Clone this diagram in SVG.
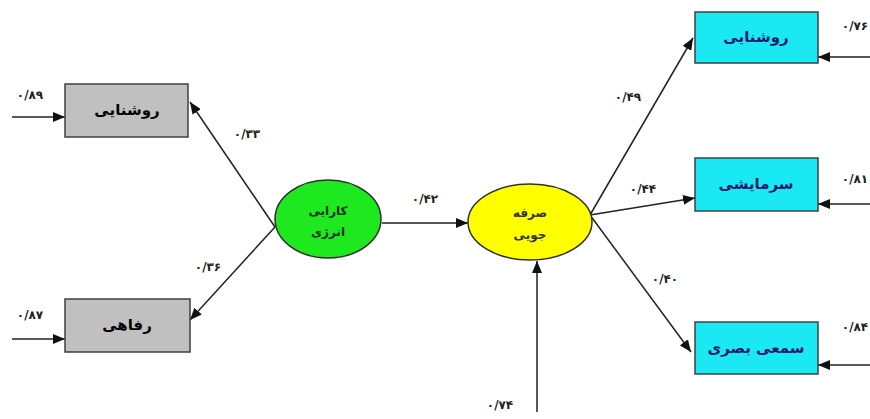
<svg xmlns="http://www.w3.org/2000/svg" width="870" height="419" viewBox="0 0 870 419">
<style>
.bg{fill:#ffffff}
.grey{fill:#c0c0c0;stroke:#404040;stroke-width:1.5}
.cyan{fill:#1ae8f2;stroke:#404040;stroke-width:1.5}
.lbl{font-family:"DejaVu Sans",sans-serif;font-size:15px;font-weight:bold;text-anchor:middle}
.num{font-family:"DejaVu Sans",sans-serif;font-size:12px;font-weight:bold;text-anchor:middle;fill:#222}
.edge{stroke:#222;stroke-width:1.5;fill:none;marker-end:url(#ah)}
</style>
<defs>
<marker id="ah" viewBox="0 0 12 10" refX="12" refY="5" markerWidth="12" markerHeight="10" markerUnits="userSpaceOnUse" orient="auto">
<path d="M0,0 L12,5 L0,10 z" fill="#111"/>
</marker>
</defs>
<rect class="bg" x="0" y="0" width="870" height="419"/>
<g id="connectors">
<line class="edge" x1="12" y1="117" x2="65" y2="117"/>
<line class="edge" x1="12" y1="339" x2="65" y2="339"/>
<line class="edge" x1="275" y1="227" x2="190" y2="102"/>
<line class="edge" x1="275" y1="227" x2="190" y2="320"/>
<line class="edge" x1="382" y1="223" x2="468" y2="223"/>
<line class="edge" x1="590" y1="215" x2="693" y2="38"/>
<line class="edge" x1="590" y1="215" x2="695" y2="198"/>
<line class="edge" x1="590" y1="215" x2="691" y2="352"/>
<line class="edge" x1="870" y1="57" x2="818" y2="57"/>
<line class="edge" x1="870" y1="204" x2="818" y2="204"/>
<line class="edge" x1="870" y1="365" x2="818" y2="365"/>
<line class="edge" x1="537" y1="412" x2="537" y2="261"/>
<text class="num" x="30" y="99">۰/۸۹</text>
<text class="num" x="30" y="319">۰/۸۷</text>
<text class="num" x="247" y="138">۰/۳۳</text>
<text class="num" x="208" y="271">۰/۳۶</text>
<text class="num" x="425" y="203">۰/۴۲</text>
<text class="num" x="628" y="101">۰/۴۹</text>
<text class="num" x="643" y="193">۰/۴۴</text>
<text class="num" x="665" y="283">۰/۴۰</text>
<text class="num" x="855" y="30">۰/۷۶</text>
<text class="num" x="855" y="183">۰/۸۱</text>
<text class="num" x="855" y="331">۰/۸۴</text>
<text class="num" x="500" y="409">۰/۷۴</text>
</g>
<g id="node-left-roshanaei">
<rect class="grey" x="65" y="84" width="123" height="53"/>
<text class="lbl" x="127" y="115" fill="#000">روشنایی</text>
</g>
<g id="node-left-refahi">
<rect class="grey" x="65" y="299" width="125" height="53"/>
<text class="lbl" x="127" y="330" fill="#000">رفاهی</text>
</g>
<g id="node-karaei">
<ellipse cx="328" cy="219" rx="53" ry="39" fill="#1ee81e" stroke="#303030" stroke-width="1.5"/>
<text class="lbl" x="328" y="215" fill="#143014" style="font-size:12px">کارایی</text>
<text class="lbl" x="328" y="236" fill="#143014" style="font-size:12px">انرژی</text>
</g>
<g id="node-sarfe">
<ellipse cx="530" cy="222" rx="62" ry="38" fill="#ffff00" stroke="#303030" stroke-width="1.5"/>
<text class="lbl" x="530" y="217" fill="#333" style="font-size:12px">صرفه</text>
<text class="lbl" x="530" y="239" fill="#333" style="font-size:12px">جویی</text>
</g>
<g id="node-right-roshanaei">
<rect class="cyan" x="695" y="12" width="123" height="51"/>
<text class="lbl" x="756" y="42" fill="#1a1a6a">روشنایی</text>
</g>
<g id="node-right-sarmayeshi">
<rect class="cyan" x="695" y="158" width="123" height="53"/>
<text class="lbl" x="756" y="189" fill="#1a1a6a">سرمایشی</text>
</g>
<g id="node-right-sami">
<rect class="cyan" x="695" y="322" width="123" height="52"/>
<text class="lbl" x="756" y="353" fill="#1a1a6a">سمعی بصری</text>
</g>
</svg>
